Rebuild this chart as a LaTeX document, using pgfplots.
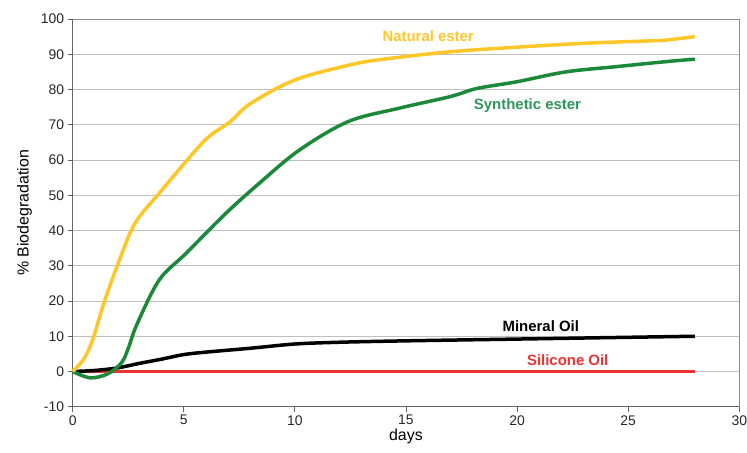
\documentclass[border=0pt]{standalone}
\usepackage{pgfplots}
\pgfplotsset{compat=1.18}
\usepackage{fontspec}
\setmainfont{Liberation Sans}

\definecolor{natyel}{RGB}{255,198,40}
\definecolor{syngreen}{RGB}{28,136,58}
\definecolor{synlab}{RGB}{46,150,90}
\definecolor{silred}{RGB}{238,50,50}
\definecolor{axgray}{RGB}{100,100,100}

\begin{document}
\begin{tikzpicture}
\begin{axis}[
    scale only axis,
    width=667bp, height=388bp,
    xmin=0, xmax=30, ymin=-10, ymax=100,
    xtick={0,5,...,30}, ytick={-10,0,...,100},
    /pgf/number format/assume math mode=true,
    ticklabel style={font=\fontsize{14}{16}\selectfont, color=black!85},
    xticklabel style={inner xsep=0pt},
    tick align=outside, tick pos=left,
    major tick length=5bp,
    tick style={axgray, line width=0.8pt},
    axis line style={draw=none},
    ymajorgrids, grid style={black!25, line width=0.8pt},
    xlabel={days}, ylabel={\% Biodegradation},
    label style={font=\fontsize{16}{18}\selectfont},
    xlabel style={yshift=3bp},
    ylabel style={yshift=2bp},
    clip=false,
]
% frame
\draw[black!45, line width=0.8pt] (axis cs:0,100) -- (axis cs:30,100) -- (axis cs:30,-10);
\draw[axgray, line width=1.2pt] (axis cs:0,100) -- (axis cs:0,-10) -- (axis cs:30,-10);

\addplot[silred, line width=3.5bp] coordinates {(0,0) (28,0)};

\addplot[black, line width=3.5bp, smooth, tension=0.5] coordinates {
(0,0) (1,0.3) (2,1) (3,2.3) (4,3.5) (5,4.8) (6,5.5) (8,6.6) (10,7.8)
(12,8.3) (15,8.7) (20,9.2) (25,9.7) (28,10)};

\addplot[syngreen, line width=3.5bp, smooth, tension=0.55] coordinates {
(0,0) (0.8,-1.8) (1.6,-0.6) (2.2,2.5) (2.5,6.5) (2.9,13.5) (3.9,26) (5.1,33.5)
(6.9,44.9) (8.4,53.4) (10.2,62.8) (12.4,70.9) (14.7,74.7) (17,78)
(18.2,80.3) (20,82.2) (22.2,85) (24.5,86.5) (26.7,87.9) (28,88.6)};

\addplot[natyel, line width=3.5bp, smooth, tension=0.55] coordinates {
(0,0) (0.5,3.5) (0.9,9) (1.4,19.3) (2.05,30.7) (2.8,42) (3.9,50.6) (5.5,62.5)
(6.2,67) (7.1,70.9) (8,76) (10,82.7) (12.5,87) (14,88.6) (17,90.7)
(20,92) (23,93.1) (26,93.8) (26.7,94) (28,95)};

\node[font=\bfseries\fontsize{15}{17}\selectfont, text=natyel] at (axis cs:16.0,95.0) {Natural ester};
\node[font=\bfseries\fontsize{15}{17}\selectfont, text=synlab] at (axis cs:20.47,75.4) {Synthetic ester};
\node[font=\bfseries\fontsize{15}{17}\selectfont, text=black] at (axis cs:21.07,12.9) {Mineral Oil};
\node[font=\bfseries\fontsize{15}{17}\selectfont, text=silred] at (axis cs:22.28,3.26) {Silicone Oil};
\end{axis}
\path ([xshift=-72.7bp,yshift=-46bp]current axis.south west) rectangle ([xshift=7bp,yshift=19bp]current axis.north east);
\end{tikzpicture}
\end{document}
